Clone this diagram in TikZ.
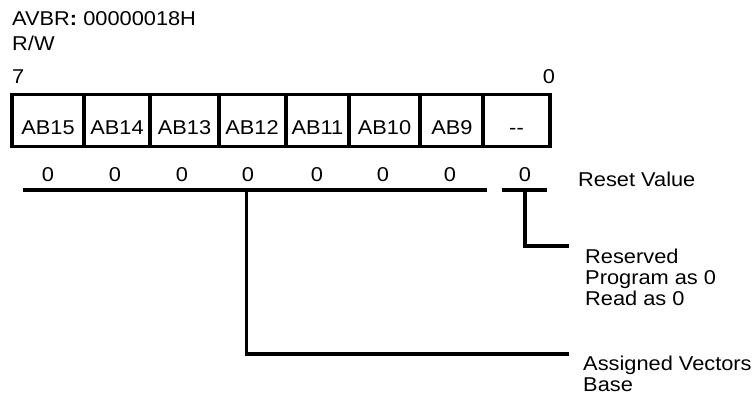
\documentclass[tikz,border=0pt]{standalone}
\usepackage{fontspec}
\setmainfont{Liberation Sans}
\begin{document}
\begin{tikzpicture}[x=1pt,y=-1pt,
  txt/.style={font=\fontsize{20}{21}\selectfont, xscale=1.09, inner sep=0pt, anchor=base},
  txtl/.style={txt, anchor=base west},
  thk/.style={line width=3.4pt},
  lead/.style={line width=3.4pt, line cap=butt}]
\useasboundingbox (0,0) rectangle (756,395);
% header texts
\node[txtl] (addr) at (12,26) {AVBR\textbf{:} 00000018H};
\node[txtl] (rw) at (12,50.7) {R/W};
\node[txtl] (b7) at (12,83.3) {7};
\node[txt] (b0) at (549,83.3) {0};
% register box
\draw[thk] (12,94.5) rectangle (550,146.7);
\foreach \xx in {84,150,219,286,349,420,483}
  \draw[thk] (\xx,94.5) -- (\xx,146.7);
\foreach \nm/\xx/\lab in {c15/48/AB15, c14/117/AB14, c13/184.5/AB13, c12/252/AB12,
    c11/317.5/AB11, c10/384.5/AB10, c9/452/AB9, cr/516.5/{-{}-}}
  \node[txt] (\nm) at (\xx,135) {\lab};
% reset values
\foreach \nm/\xx in {z15/48, z14/115, z13/182, z12/248, z11/317, z10/383, z9/450, zr/525}
  \node[txt] (\nm) at (\xx,181.7) {0};
\node[txtl] (rv) at (578,187) {Reset Value};
% brackets
\coordinate (ula) at (22.7,190);
\coordinate (ulb) at (487,190);
\coordinate (ulm) at (246.7,190);
\coordinate (ulc) at (246.7,354);
\coordinate (ule) at (569,354);
\coordinate (ura) at (502,190);
\coordinate (urb) at (547,190);
\coordinate (urm) at (525,190);
\coordinate (urc) at (525,246);
\coordinate (ure) at (569,246);
\draw[lead] (ula) -- (ulb);
\draw[lead] (ura) -- (urb);
\draw[lead, line join=miter] (ulm) -- (ulc) -- (ule);
\draw[lead, line join=miter] (urm) -- (urc) -- (ure);
% descriptions
\node[txtl] (r1) at (585,264) {Reserved};
\node[txtl] (r2) at (585,285) {Program as 0};
\node[txtl] (r3) at (585,306) {Read as 0};
\node[txtl] (a1) at (583,371) {Assigned Vectors};
\node[txtl] (a2) at (583,392) {Base};
\end{tikzpicture}
\end{document}
